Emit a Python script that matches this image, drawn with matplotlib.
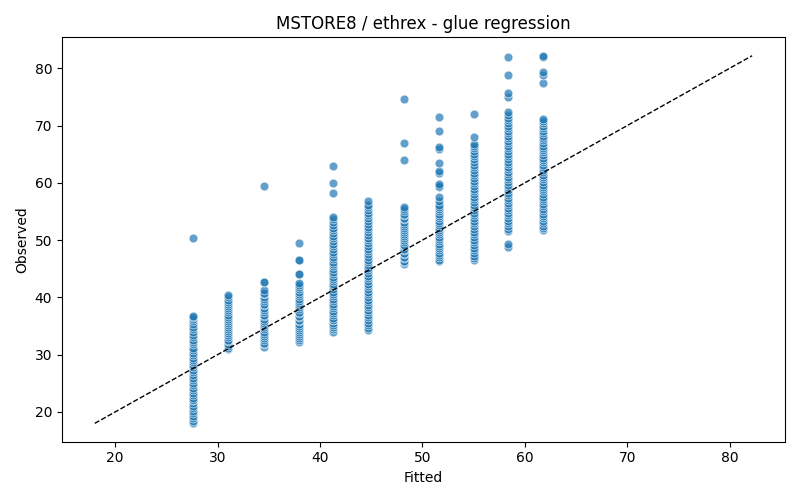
import matplotlib
matplotlib.use("Agg")
import matplotlib.pyplot as plt
import numpy as np

# fitted level for each column
fitted_levels = [27.6, 31.0, 34.5, 37.9, 41.3, 44.7, 48.2, 51.6, 55.0, 58.4, 61.8]

# observed values read per column
obs_1 = [18.0, 18.4, 18.9, 19.3, 19.8, 20.2, 20.6, 21.1, 21.5, 22.0, 22.0, 22.4, 22.9, 23.3,
         23.8, 24.2, 24.7, 25.1, 25.6, 26.0, 26.4, 26.9, 27.3, 27.8, 28.2, 28.7, 29.1, 29.4,
         29.9, 30.3, 30.8, 31.2, 31.8, 32.2, 32.6, 33.1, 33.5, 34.0, 34.4, 34.9, 35.3, 35.8,
         36.2, 36.6, 36.8, 50.4]
obs_2 = [31.0, 31.2, 31.5, 31.9, 32.3, 32.6, 33.0, 33.4, 33.7, 34.1, 34.4, 34.8, 35.2, 35.5,
         35.9, 36.3, 36.6, 37.0, 37.4, 37.8, 38.1, 38.5, 38.9, 39.2, 39.6, 40.0, 40.4]
obs_3 = [31.4, 31.8, 32.1, 32.5, 32.9, 33.3, 33.6, 34.0, 34.4, 34.8, 35.1, 35.5, 35.9, 36.3,
         36.7, 37.0, 37.4, 37.8, 38.2, 38.6, 38.9, 39.3, 39.7, 40.1, 40.5, 40.8, 41.2, 42.7,
         42.7, 59.5]
obs_4 = [32.2, 32.5, 32.9, 33.3, 33.6, 34.0, 34.3, 34.7, 35.0, 35.4, 35.8, 36.1, 36.5, 36.8,
         37.2, 37.5, 37.9, 38.3, 38.6, 39.0, 39.4, 39.8, 40.2, 40.6, 41.0, 41.4, 41.8, 42.2,
         42.5, 44.0, 44.1, 46.5, 46.5, 49.5]
obs_5 = [34.0, 34.4, 34.8, 35.2, 35.6, 36.0, 36.0, 36.4, 36.9, 37.3, 37.7, 38.1, 38.5, 38.9,
         39.4, 39.8, 40.2, 40.6, 41.0, 41.5, 41.9, 42.3, 42.8, 43.2, 43.6, 44.0, 44.5, 44.9,
         45.4, 45.8, 46.2, 46.7, 47.1, 47.6, 48.0, 48.5, 48.9, 49.4, 49.8, 50.3, 50.8, 51.3,
         51.7, 52.2, 52.7, 53.2, 53.6, 54.1, 58.3, 60.0, 63.0]
obs_6 = [34.3, 34.7, 35.1, 35.6, 36.0, 36.5, 37.0, 37.4, 37.8, 38.3, 38.7, 39.2, 39.6, 40.1,
         40.6, 41.0, 41.5, 41.9, 42.4, 42.9, 43.4, 43.8, 44.3, 44.8, 45.2, 45.7, 46.2, 46.6,
         47.1, 47.6, 48.1, 48.5, 49.0, 49.5, 50.0, 50.4, 50.9, 51.4, 51.9, 52.3, 52.8, 53.3,
         53.8, 54.3, 54.8, 55.2, 55.7, 56.2, 56.8]
obs_7 = [45.8, 46.1, 46.4, 46.8, 47.1, 47.5, 47.8, 48.2, 48.5, 48.9, 49.2, 49.6, 50.0, 50.3,
         50.7, 51.0, 51.4, 51.8, 52.1, 52.5, 52.8, 53.2, 53.6, 53.9, 54.3, 54.6, 55.0, 55.4,
         55.8, 64.0, 67.0, 74.7]
obs_8 = [46.3, 46.6, 47.0, 47.4, 47.8, 48.2, 48.6, 49.0, 49.4, 49.8, 50.2, 50.6, 51.0, 51.4,
         51.8, 52.2, 52.6, 53.0, 53.4, 53.8, 54.2, 54.6, 55.0, 55.4, 55.8, 56.2, 56.8, 57.6,
         59.2, 59.5, 59.8, 61.8, 62.1, 63.5, 65.9, 66.3, 69.0, 71.5]
obs_9 = [46.5, 46.9, 47.3, 47.8, 48.3, 48.7, 49.2, 49.7, 50.1, 50.6, 51.1, 51.5, 52.0, 52.5,
         52.9, 53.4, 53.9, 54.3, 54.8, 55.3, 55.7, 56.2, 56.7, 57.1, 57.6, 58.1, 58.5, 59.0,
         59.5, 59.9, 60.4, 60.9, 61.3, 61.8, 62.3, 62.7, 63.2, 63.7, 64.1, 64.6, 65.1, 65.5,
         66.0, 66.5, 66.8, 68.0, 72.0]
obs_10 = [48.8, 49.3, 51.6, 52.0, 52.5, 52.9, 53.4, 53.8, 54.3, 54.7, 55.2, 55.6, 56.1, 56.5,
          57.0, 57.4, 57.9, 58.3, 58.8, 59.2, 59.7, 60.1, 60.6, 61.0, 61.5, 61.9, 62.4, 62.8,
          63.3, 63.7, 64.2, 64.6, 65.1, 65.5, 66.0, 66.4, 66.9, 67.3, 67.8, 68.2, 68.7, 69.1,
          69.6, 70.0, 70.5, 70.9, 71.4, 71.8, 72.3, 75.0, 75.7, 78.9, 81.9]
obs_11 = [51.7, 52.1, 52.5, 52.9, 53.4, 53.8, 54.2, 54.6, 55.1, 55.5, 55.9, 56.3, 56.8, 57.2,
          57.6, 58.0, 58.5, 58.9, 59.3, 59.7, 60.2, 60.6, 61.0, 61.4, 61.9, 62.3, 62.7, 63.1,
          63.6, 64.0, 64.4, 64.8, 65.3, 65.7, 66.1, 66.5, 67.0, 67.4, 67.8, 68.2, 68.7, 69.1,
          69.5, 69.9, 70.4, 70.8, 71.2, 77.5, 78.9, 79.3, 81.9, 82.2]

columns = [obs_1, obs_2, obs_3, obs_4, obs_5, obs_6, obs_7, obs_8, obs_9, obs_10, obs_11]

fitted = np.concatenate([[f] * len(c) for f, c in zip(fitted_levels, columns)])
observed = np.concatenate(columns)

fig, ax = plt.subplots(figsize=(8, 5), dpi=100)
ax.scatter(fitted, observed, s=40, color="#1f77b4", alpha=0.7,
           edgecolors="white", linewidths=0.6)

lo = min(fitted.min(), observed.min())
hi = max(fitted.max(), observed.max())
ax.plot([lo, hi], [lo, hi], color="black", linestyle="--", linewidth=1)

ax.set_xlabel("Fitted")
ax.set_ylabel("Observed")
ax.set_title("MSTORE8 / ethrex - glue regression")
plt.tight_layout()
plt.savefig("out.png")
